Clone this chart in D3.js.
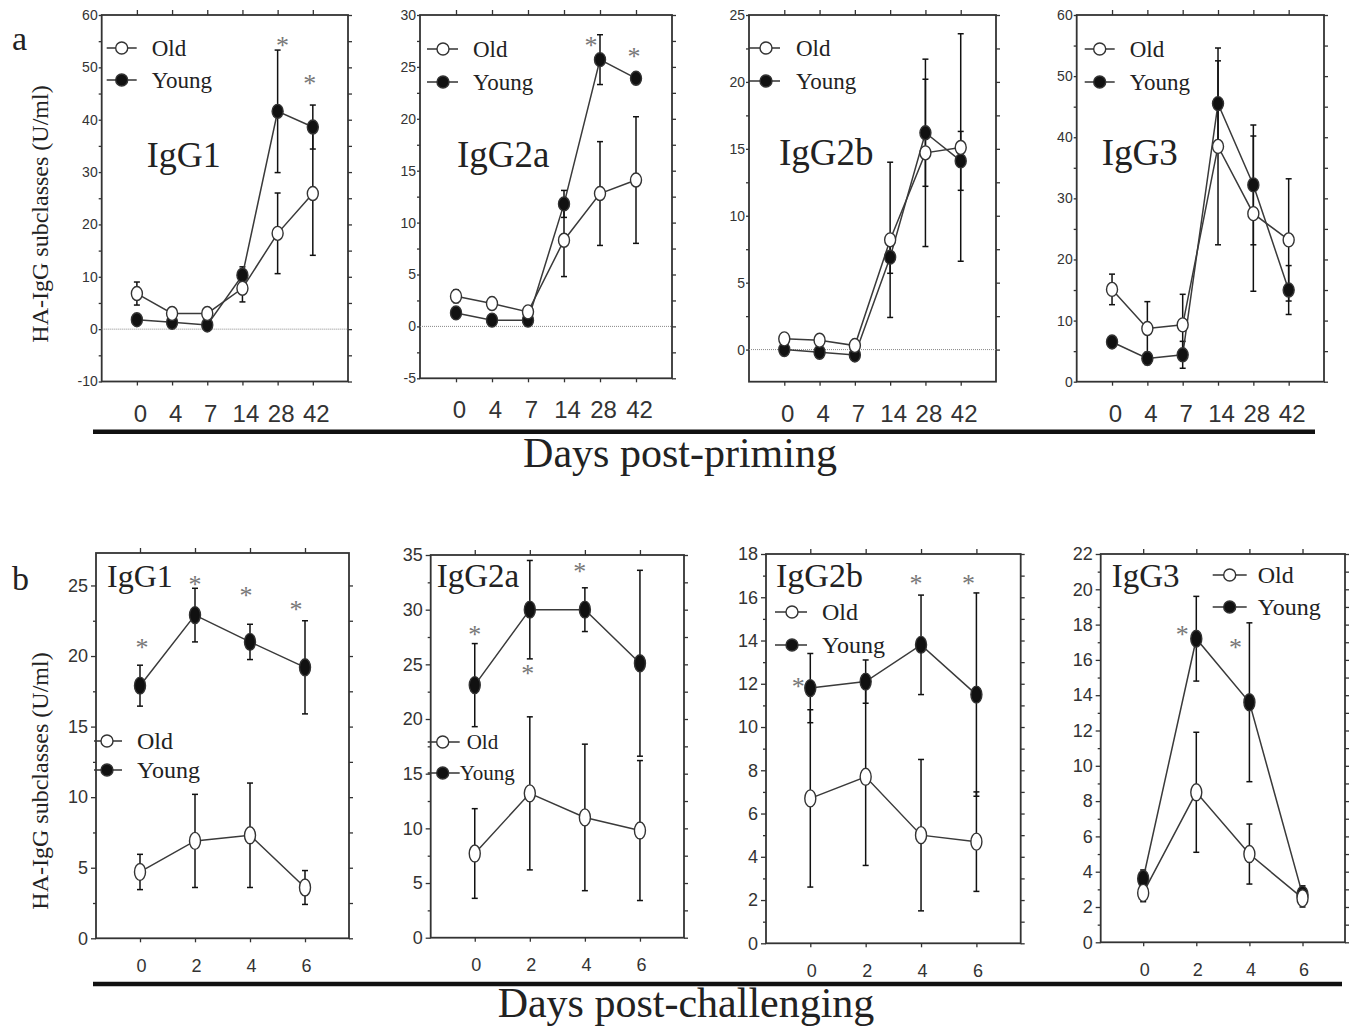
<!DOCTYPE html>
<html>
<head>
<meta charset="utf-8">
<script src="https://cdn.jsdelivr.net/npm/d3@7"></script>
<style>
  body { margin: 0; background: #fff; }
</style>
</head>
<body>
<div class="chart"></div>
<script>
// x categories
var primingDays = ["0", "4", "7", "14", "28", "42"];
var challengeDays = ["0", "2", "4", "6"];

// a: post-priming (U/ml), mean and error
var g1PrimeOld = [6.8, 3.0, 3.0, 7.8, 18.3, 25.9];
var g1PrimeOldErr = [2.2, 0.7, 0.7, 2.6, 7.7, 11.8];
var g1PrimeYoung = [1.8, 1.3, 0.8, 10.3, 41.6, 38.6];
var g1PrimeYoungErr = [0.6, 0.5, 0.6, 1.6, 11.7, 4.2];
var g1PrimeStars = [{day: "28", value: 54.8}, {day: "42", value: 47.6}];

var g2aPrimeOld = [2.9, 2.2, 1.4, 8.3, 12.8, 14.1];
var g2aPrimeOldErr = [0.6, 0.4, 0.4, 3.5, 5.0, 6.1];
var g2aPrimeYoung = [1.3, 0.6, 0.6, 11.8, 25.7, 23.9];
var g2aPrimeYoungErr = [0.5, 0.3, 0.3, 1.3, 2.4, 0.5];
var g2aPrimeStars = [{day: "28", value: 27.4}, {day: "42", value: 26.3}];

var g2bPrimeOld = [0.8, 0.7, 0.3, 8.2, 14.7, 15.1];
var g2bPrimeOldErr = [0.4, 0.3, 0.3, 5.8, 7.0, 8.5];
var g2bPrimeYoung = [0.0, -0.2, -0.4, 6.9, 16.2, 14.1];
var g2bPrimeYoungErr = [0.3, 0.3, 0.3, 1.2, 4.0, 2.2];
var g2bPrimeStars = [];

var g3PrimeOld = [15.1, 8.7, 9.3, 38.5, 27.5, 23.2];
var g3PrimeOldErr = [2.5, 4.4, 5.0, 16.1, 12.7, 10.0];
var g3PrimeYoung = [6.5, 3.8, 4.4, 45.5, 32.2, 15.0];
var g3PrimeYoungErr = [0.8, 1.0, 2.2, 7.0, 9.8, 4.0];
var g3PrimeStars = [];

// b: post-challenging (U/ml), mean and error
var g1ChalOld = [4.7, 6.9, 7.3, 3.6];
var g1ChalOldErr = [1.25, 3.3, 3.7, 1.2];
var g1ChalYoung = [17.9, 22.9, 21.0, 19.2];
var g1ChalYoungErr = [1.45, 1.9, 1.25, 3.3];
var g1ChalStars = [{day: "0", value: 20.8}, {day: "2", value: 25.3}, {day: "4", value: 24.5}, {day: "6", value: 23.5}];

var g2aChalOld = [7.7, 13.2, 11.0, 9.8];
var g2aChalOldErr = [4.1, 7.0, 6.7, 6.4];
var g2aChalYoung = [23.1, 30.0, 30.0, 25.1];
var g2aChalYoungErr = [3.8, 4.5, 2.0, 8.5];
var g2aChalStars = [{day: "0", value: 28.0}, {day: "2", value: 24.5}, {day: "4", value: 33.8}];

var g2bChalOld = [6.7, 7.7, 5.0, 4.7];
var g2bChalOldErr = [4.1, 4.1, 3.5, 2.3];
var g2bChalYoung = [11.8, 12.1, 13.8, 11.5];
var g2bChalYoungErr = [1.6, 1.0, 2.3, 4.7];
var g2bChalStars = [{day: "0", value: 12.0}, {day: "4", value: 16.8}, {day: "6", value: 16.8}];

var g3ChalOld = [2.8, 8.5, 5.0, 2.5];
var g3ChalOldErr = [0.5, 3.4, 1.7, 0.5];
var g3ChalYoung = [3.6, 17.2, 13.6, 2.7];
var g3ChalYoungErr = [0.5, 2.4, 4.5, 0.5];
var g3ChalStars = [{day: "2", value: 17.6}, {day: "4", value: 16.9}];

// panel layout (positions in px)
var panels = [
  {title: "IgG1", days: primingDays, old: g1PrimeOld, oldErr: g1PrimeOldErr, young: g1PrimeYoung, youngErr: g1PrimeYoungErr, stars: g1PrimeStars,
   box: [101.7, 348, 15, 381.5], yDomain: [-10, 60], step: 10, pad: 1, zero: true, row: 0,
   titlePos: [45, 152, 36], legend: [5, 35, 20, 33, 65, 50, 50, 23], starShift: [5, -3]},
  {title: "IgG2a", days: primingDays, old: g2aPrimeOld, oldErr: g2aPrimeOldErr, young: g2aPrimeYoung, youngErr: g2aPrimeYoungErr, stars: g2aPrimeStars,
   box: [420, 672, 15, 378.3], yDomain: [-5, 30], step: 5, pad: 1, zero: true, row: 0,
   titlePos: [37, 152, 37], legend: [7, 38, 23, 34, 67, 53, 53, 23], starShift: [-9, -2]},
  {title: "IgG2b", days: primingDays, old: g2bPrimeOld, oldErr: g2bPrimeOldErr, young: g2bPrimeYoung, youngErr: g2bPrimeYoungErr, stars: g2bPrimeStars,
   box: [749, 996, 15, 381.7], yDomain: [-2.4, 25], step: 5, pad: 1, zero: true, row: 0,
   titlePos: [30, 150, 37], legend: [0, 31, 17, 33, 66, 47, 47, 23], starShift: []},
  {title: "IgG3", days: primingDays, old: g3PrimeOld, oldErr: g3PrimeOldErr, young: g3PrimeYoung, youngErr: g3PrimeYoungErr, stars: g3PrimeStars,
   box: [1076.7, 1324, 15, 381.7], yDomain: [0, 60], step: 10, pad: 1, zero: false, row: 0,
   titlePos: [25, 150, 37], legend: [8, 38, 23, 34, 67, 53, 53, 23], starShift: []},
  {title: "IgG1", days: challengeDays, old: g1ChalOld, oldErr: g1ChalOldErr, young: g1ChalYoung, youngErr: g1ChalYoungErr, stars: g1ChalStars,
   box: [96, 349, 553, 938.3], yDomain: [0, 27.3], step: 5, pad: 0.8, zero: false, row: 1,
   titlePos: [11, 34, 32], legend: [-2, 26, 11, 188, 217, 41, 41, 24], starShift: [2, 0, -4, -9]},
  {title: "IgG2a", days: challengeDays, old: g2aChalOld, oldErr: g2aChalOldErr, young: g2aChalYoung, youngErr: g2aChalYoungErr, stars: g2aChalStars,
   box: [430.7, 684, 555, 937.7], yDomain: [0, 35], step: 5, pad: 0.8, zero: false, row: 1,
   titlePos: [6, 32, 33], legend: [-3, 29, 12, 187, 218, 36, 29, 21], starShift: [0, -2, -5]},
  {title: "IgG2b", days: challengeDays, old: g2bChalOld, oldErr: g2bChalOldErr, young: g2bChalYoung, youngErr: g2bChalYoungErr, stars: g2bChalStars,
   box: [766, 1020.7, 554, 943.3], yDomain: [0, 18], step: 2, pad: 0.8, zero: false, row: 1,
   titlePos: [10, 33, 34], legend: [9, 41, 26, 58, 91, 56, 56, 24], starShift: [-12, -5, -8]},
  {title: "IgG3", days: challengeDays, old: g3ChalOld, oldErr: g3ChalOldErr, young: g3ChalYoung, youngErr: g3ChalYoungErr, stars: g3ChalStars,
   box: [1100.7, 1345, 554, 942.3], yDomain: [0, 22], step: 2, pad: 0.8, zero: false, row: 1,
   titlePos: [11, 33, 33], legend: [112, 146, 129, 21, 53, 157, 157, 24], starShift: [-14, -14]}
];

var serif = "'Liberation Serif', 'Times New Roman', serif";
var sans = "'Liberation Sans', Arial, sans-serif";
var ink = "#222";

var svg = d3.select(".chart")
  .append("svg")
  .attr("width", 1355)
  .attr("height", 1028)
  .style("background", "#fff");

function ticksFrom(domain, step) {
  var start = Math.ceil(domain[0] / step - 1e-9) * step;
  return d3.range(start, domain[1] + 1e-9, step).map(function(v) { return +v.toFixed(3); });
}

panels.forEach(function(p) {
  var width = p.box[1] - p.box[0];
  var height = p.box[3] - p.box[2];
  var top = p.row === 0;

  var g = svg.append("g")
    .attr("transform", `translate(${p.box[0]}, ${p.box[2]})`);

  // Step 1: scales
  var x = d3.scalePoint()
    .domain(p.days)
    .range([0, width])
    .padding(p.pad);

  var y = d3.scaleLinear()
    .domain(p.yDomain)
    .range([height, 0]);

  var major = ticksFrom(p.yDomain, p.step);
  var minor = ticksFrom(p.yDomain, p.step / 2).filter(function(v) { return major.indexOf(v) < 0; });

  // Step 2: axes (ticks only, the frame draws the lines)
  var leftAxis = g.append("g")
    .call(d3.axisLeft(y).tickValues(major).tickSize(top ? 3 : 5).tickPadding(top ? 1 : 3)
      .tickFormat(function(d) { return String(d); }));
  leftAxis.selectAll("text")
    .style("font-family", sans)
    .style("font-size", top ? "14px" : "18px")
    .attr("fill", "#333");

  g.append("g")
    .call(d3.axisLeft(y).tickValues(minor).tickSize(3).tickFormat(""));

  g.append("g")
    .attr("transform", `translate(${width}, 0)`)
    .call(d3.axisRight(y).tickValues(major.concat(minor)).tickSize(4).tickFormat(""));

  g.append("g")
    .call(d3.axisTop(x).tickSize(5).tickFormat(""));

  g.append("g")
    .attr("transform", `translate(0, ${height})`)
    .call(d3.axisBottom(x).tickSize(4).tickFormat(""));

  var xLabels = g.append("g")
    .attr("transform", `translate(${top ? 3 : 1}, ${height})`)
    .call(d3.axisBottom(x).tickSize(0).tickPadding(top ? 23 : 21));
  xLabels.selectAll("text")
    .style("font-family", sans)
    .style("font-size", top ? "24px" : "18px")
    .attr("fill", "#333");

  g.selectAll(".domain").remove();
  g.selectAll(".tick line").attr("stroke", "#333").attr("stroke-width", 1.3);

  // frame
  g.append("rect")
    .attr("width", width)
    .attr("height", height)
    .attr("fill", "none")
    .attr("stroke", "#333")
    .attr("stroke-width", 1.8);

  if (p.zero) {
    g.append("line")
      .attr("x1", 0)
      .attr("x2", width)
      .attr("y1", y(0))
      .attr("y2", y(0))
      .attr("stroke", "#888")
      .attr("stroke-width", 1)
      .attr("stroke-dasharray", "1,1");
  }

  // Step 3: error bars, lines, markers
  var rx = 5.5;
  var ry = top ? 7 : 8.5;

  var groups = [
    {vals: p.young, errs: p.youngErr, fill: "#111"},
    {vals: p.old, errs: p.oldErr, fill: "#fff"}
  ];

  groups.forEach(function(s) {
    var pts = p.days.map(function(d, i) { return {day: d, v: s.vals[i], e: s.errs[i]}; });

    var bars = g.append("g").selectAll("g")
      .data(pts)
      .enter()
      .append("g")
      .attr("stroke", "#111")
      .attr("stroke-width", 1.5);

    bars.append("line")
      .attr("x1", d => x(d.day))
      .attr("x2", d => x(d.day))
      .attr("y1", d => y(d.v - d.e))
      .attr("y2", d => y(d.v + d.e));

    bars.append("line")
      .attr("x1", d => x(d.day) - 3)
      .attr("x2", d => x(d.day) + 3)
      .attr("y1", d => y(d.v + d.e))
      .attr("y2", d => y(d.v + d.e));

    bars.append("line")
      .attr("x1", d => x(d.day) - 3)
      .attr("x2", d => x(d.day) + 3)
      .attr("y1", d => y(d.v - d.e))
      .attr("y2", d => y(d.v - d.e));

    g.append("path")
      .datum(pts)
      .attr("fill", "none")
      .attr("stroke", "#3a3a3a")
      .attr("stroke-width", 1.5)
      .attr("d", d3.line().x(d => x(d.day)).y(d => y(d.v)));
  });

  groups.forEach(function(s) {
    g.append("g").selectAll("ellipse")
      .data(p.days.map(function(d, i) { return {day: d, v: s.vals[i]}; }))
      .enter()
      .append("ellipse")
      .attr("cx", d => x(d.day))
      .attr("cy", d => y(d.v))
      .attr("rx", rx)
      .attr("ry", ry)
      .attr("fill", s.fill)
      .attr("stroke", "#333")
      .attr("stroke-width", 1.4);
  });

  // significance marks
  g.append("g").selectAll("text")
    .data(p.stars)
    .enter()
    .append("text")
    .attr("x", (d, i) => x(d.day) + p.starShift[i])
    .attr("y", d => y(d.value))
    .attr("dy", "0.45em")
    .attr("text-anchor", "middle")
    .style("font-family", serif)
    .style("font-size", "26px")
    .attr("fill", "#777")
    .text("*");

  // title
  g.append("text")
    .attr("x", p.titlePos[0])
    .attr("y", p.titlePos[1])
    .style("font-family", serif)
    .style("font-size", p.titlePos[2] + "px")
    .attr("fill", ink)
    .text(p.title);

  // legend
  var lg = p.legend;
  var items = [
    {label: "Old", ly: lg[3], tx: lg[5], fill: "#fff"},
    {label: "Young", ly: lg[4], tx: lg[6], fill: "#111"}
  ];
  items.forEach(function(it) {
    g.append("line")
      .attr("x1", lg[0])
      .attr("x2", lg[1])
      .attr("y1", it.ly)
      .attr("y2", it.ly)
      .attr("stroke", "#333")
      .attr("stroke-width", 1.5);
    g.append("circle")
      .attr("cx", lg[2])
      .attr("cy", it.ly)
      .attr("r", 6)
      .attr("fill", it.fill)
      .attr("stroke", "#333")
      .attr("stroke-width", 1.4);
    g.append("text")
      .attr("x", it.tx)
      .attr("y", it.ly)
      .attr("dy", "0.33em")
      .style("font-family", serif)
      .style("font-size", lg[7] + "px")
      .attr("fill", ink)
      .text(it.label);
  });
});

// panel letters
svg.append("text")
  .attr("x", 12)
  .attr("y", 50)
  .style("font-family", serif)
  .style("font-size", "34px")
  .attr("fill", ink)
  .text("a");

svg.append("text")
  .attr("x", 12)
  .attr("y", 590)
  .style("font-family", serif)
  .style("font-size", "34px")
  .attr("fill", ink)
  .text("b");

// y axis titles
[214, 781].forEach(function(cy) {
  svg.append("text")
    .attr("transform", `translate(48, ${cy}) rotate(-90)`)
    .attr("text-anchor", "middle")
    .style("font-family", serif)
    .style("font-size", "24px")
    .attr("fill", ink)
    .text("HA-IgG subclasses (U/ml)");
});

// rules under each row and x titles
svg.append("line")
  .attr("x1", 93).attr("x2", 1315)
  .attr("y1", 431.7).attr("y2", 431.7)
  .attr("stroke", "#111")
  .attr("stroke-width", 4.5);

svg.append("line")
  .attr("x1", 93).attr("x2", 1342)
  .attr("y1", 984).attr("y2", 984)
  .attr("stroke", "#111")
  .attr("stroke-width", 4.5);

svg.append("text")
  .attr("x", 680)
  .attr("y", 467)
  .attr("text-anchor", "middle")
  .style("font-family", serif)
  .style("font-size", "42px")
  .attr("fill", ink)
  .text("Days post-priming");

svg.append("text")
  .attr("x", 686)
  .attr("y", 1017)
  .attr("text-anchor", "middle")
  .style("font-family", serif)
  .style("font-size", "42px")
  .attr("fill", ink)
  .text("Days post-challenging");
</script>
</body>
</html>
